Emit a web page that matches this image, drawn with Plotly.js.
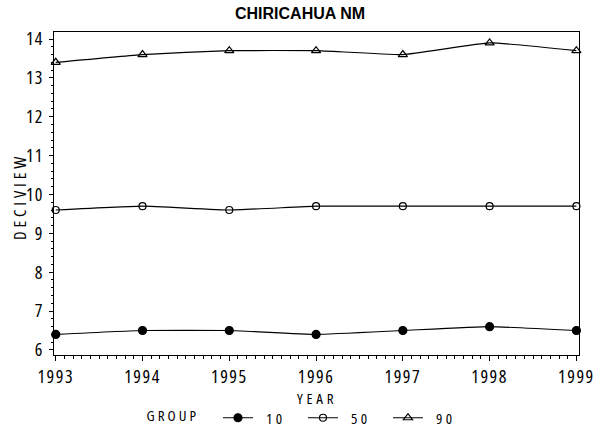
<!DOCTYPE html>
<html>
<head>
<meta charset="utf-8">
<script src="https://cdn.plot.ly/plotly-3.0.1.min.js"></script>
<style>
  html, body { margin: 0; padding: 0; background: #fff; }
  #chart { width: 600px; height: 430px; }
  .xtick text, .ytick text, .annotation-text, .legend text { font-stretch: 75%; }
  .xtick text { letter-spacing: 1.5px; }
  .ytick text { letter-spacing: 1px; }
  .annotation-text { letter-spacing: 3.8px; }
  .legend .legendtext { letter-spacing: 3.5px; transform: translateX(8px); }
  .legend .legendtitletext { letter-spacing: 3px; }
</style>
</head>
<body>
<div id="chart"></div>
<script>
const years = [1993, 1994, 1995, 1996, 1997, 1998, 1999];
const groupLabels = ['10', '50', '90'];
const group10 = [6.4, 6.5, 6.5, 6.4, 6.5, 6.6, 6.5];
const group50 = [9.6, 9.7, 9.6, 9.7, 9.7, 9.7, 9.7];
const group90 = [13.4, 13.6, 13.7, 13.7, 13.6, 13.9, 13.7];
const yTicks = [6, 7, 8, 9, 10, 11, 12, 13, 14];
const xTicks = years;

const symbols = ['circle', 'circle-open', 'triangle-up-open'];
const sizes = [8, 7, 8];
const seriesValues = [group10, group50, group90];

const traces = seriesValues.map((vals, i) => ({
  x: years,
  y: vals,
  name: groupLabels[i],
  type: 'scatter',
  mode: 'lines+markers',
  line: { color: '#000', width: 1.2, shape: 'spline', smoothing: 0.35 },
  marker: { symbol: symbols[i], size: sizes[i], color: '#000', line: { color: '#000', width: 1.2 } },
  cliponaxis: false
}));

const narrow = '"Open Sans", "DejaVu Sans Condensed", sans-serif';
const tickFont = { family: narrow, size: 18, color: '#000' };
const labelFont = { family: narrow, size: 15, color: '#000' };
const yLabelFont = { family: narrow, size: 17, color: '#000' };

const layout = {
  width: 600,
  height: 430,
  margin: { l: 54, r: 21, t: 32, b: 75 },
  paper_bgcolor: '#fff',
  plot_bgcolor: '#fff',
  showlegend: true,
  title: {
    text: '<b>CHIRICAHUA NM</b>',
    font: { family: '"Liberation Sans", Arial, sans-serif', size: 16, color: '#000' },
    x: 0.5, xref: 'container', xanchor: 'center',
    y: 0.97, yref: 'container', yanchor: 'middle'
  },
  xaxis: {
    range: [1992.98, 1999.03],
    tickvals: xTicks,
    ticktext: xTicks.map(String),
    tickfont: tickFont,
    ticks: 'outside', ticklen: 5, tickwidth: 1, tickcolor: '#000',
    ticklabelstandoff: 0,
    minor: { dtick: 0.1, ticks: 'outside', ticklen: 3, tickwidth: 1, tickcolor: '#000', showgrid: false },
    showline: true, linecolor: '#000', linewidth: 1, mirror: true,
    showgrid: false, zeroline: false,
    automargin: false
  },
  yaxis: {
    range: [5.87, 14.18],
    tickvals: yTicks,
    ticktext: yTicks.map(String),
    tickfont: tickFont,
    ticks: 'outside', ticklen: 4, tickwidth: 1, tickcolor: '#000',
    ticklabelstandoff: 2,
    minor: { dtick: 0.2, ticks: 'outside', ticklen: 2, tickwidth: 1, tickcolor: '#000', showgrid: false },
    showline: true, linecolor: '#000', linewidth: 1, mirror: true,
    showgrid: false, zeroline: false,
    automargin: false
  },
  annotations: [
    { text: 'YEAR', xref: 'paper', yref: 'paper', x: 0.5, y: -43 / 323,
      xanchor: 'center', yanchor: 'middle', showarrow: false, font: labelFont },
    { text: 'DECIVIEW', xref: 'paper', yref: 'paper', x: -35 / 525, y: 0.489,
      xanchor: 'center', yanchor: 'middle', textangle: -90, showarrow: false, font: yLabelFont }
  ],
  legend: {
    orientation: 'h',
    xref: 'container', yref: 'container',
    x: 0.515, xanchor: 'center',
    y: 1 - 418 / 430, yanchor: 'middle',
    font: labelFont,
    title: { text: 'GROUP&nbsp;&nbsp;&nbsp;', side: 'left', font: labelFont },
    entrywidth: 40,
    entrywidthmode: 'pixels',
    bgcolor: 'rgba(0,0,0,0)'
  }
};

Plotly.newPlot('chart', traces, layout, { displayModeBar: false, staticPlot: true });
</script>
</body>
</html>
